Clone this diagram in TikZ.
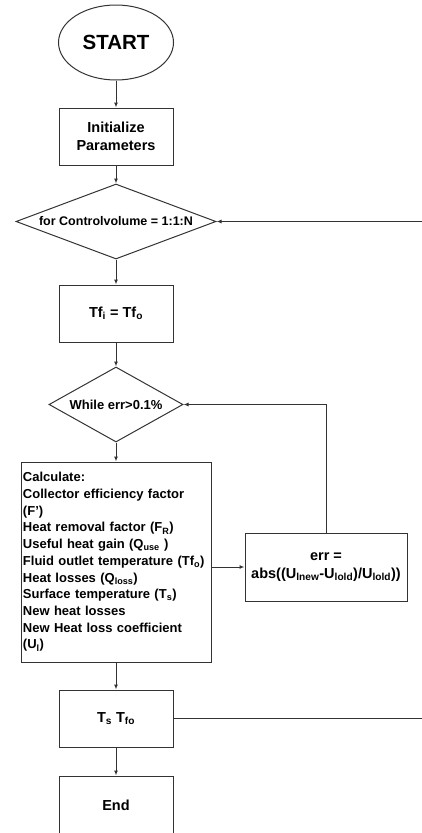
\documentclass[tikz,border=0pt]{standalone}
\usepackage{fontspec}
\setmainfont{Liberation Sans}
\usetikzlibrary{shapes.geometric,arrows.meta}

\begin{document}
\begin{tikzpicture}[x=1pt,y=-1pt,line width=1pt,
	flow/.style={draw=black!80,-{Latex[length=5pt,width=4pt]}},
	blok/.style={draw=black!80,rectangle,inner sep=0pt,align=center,
		font=\fontsize{14.5}{18}\selectfont\bfseries},
	keuze/.style={draw=black!80,diamond,aspect=2.6,inner sep=0pt,
		font=\fontsize{13}{16}\selectfont\bfseries}]
\useasboundingbox (0,0) rectangle (422,833);
\node[draw=black!80,ellipse,minimum width=115,minimum height=75,inner sep=0pt,
	font=\fontsize{20.5}{24}\selectfont\bfseries] (start) at (116,42.5) {START};
\node[blok,minimum width=114,minimum height=57] (init) at (116,136.5) {Initialize\\Parameters};
\node[keuze,minimum width=200,minimum height=75,
	font=\fontsize{12.5}{15}\selectfont\bfseries] (for) at (116,221.5) {for Controlvolume = 1:1:N};
\node[blok,minimum width=114,minimum height=57] (tf) at (116,313.5) {Tf\textsubscript{i} = Tf\textsubscript{o}};
\node[keuze,minimum width=134,minimum height=75] (while) at (116,404.5) {While err>0.1\%};
\node[blok,minimum width=190,minimum height=200,text width=186,align=left,
	font=\fontsize{13}{16.7}\selectfont\bfseries] (calc) at (116,562) {Calculate:\\
	Collector efficiency factor\\
	(F')\\
	Heat removal factor (F\textsubscript{R})\\
	Useful heat gain (Q\textsubscript{use} )\\
	Fluid outlet temperature (Tf\textsubscript{o})\\
	Heat losses (Q\textsubscript{loss})\\
	Surface temperature (T\textsubscript{s})\\
	New heat losses\\
	New Heat loss coefficient\\
	(U\textsubscript{l})};
\node[blok,minimum width=162,minimum height=68] (err) at (326,567) {err =\\abs((U\textsubscript{lnew}-U\textsubscript{lold})/U\textsubscript{lold}))};
\node[blok,minimum width=114,minimum height=57] (ts) at (116,718.5) {T\textsubscript{s} T\textsubscript{fo}};
\node[blok,minimum width=114,minimum height=58] (eind) at (116,805) {End};
\coordinate (lus) at (422,221.5);
\coordinate (terug) at (422,718.5);
\draw[flow] (start) -- (init);
\draw[flow] (init) -- (for);
\draw[flow] (for) -- (tf);
\draw[flow] (tf) -- (while);
\draw[flow] (while) -- (calc);
\draw[flow] (err.west -| calc.east) -- (err.west);
\draw[flow] (err.north) |- (while.east);
\draw[flow] (calc) -- (ts);
\draw[flow] (ts) -- (eind);
\draw[draw=black!80] (ts.east) -- (terug);
\draw[flow] (lus) -- (for.east);
\end{tikzpicture}
\end{document}
